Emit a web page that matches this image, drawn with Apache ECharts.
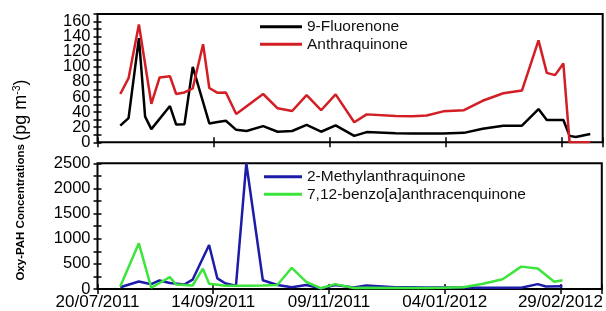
<!DOCTYPE html>
<html>
<head>
<meta charset="utf-8">
<script src="https://cdn.jsdelivr.net/npm/echarts@6/dist/echarts.min.js"></script>
<style>
  html, body { margin: 0; padding: 0; background: #fff; }
  #chart { width: 606px; height: 311px; }
</style>
</head>
<body>
<div id="chart"></div>
<script>
// sampling dates (start of x axis is 20/07/2011)
const startDate = '2011-07-20'
const sampleDates = [
  '2011-07-31','2011-08-04','2011-08-09','2011-08-12','2011-08-15','2011-08-19','2011-08-24','2011-08-27',
  '2011-08-31','2011-09-04','2011-09-09','2011-09-12','2011-09-16','2011-09-20','2011-09-25','2011-09-30',
  '2011-10-08','2011-10-15','2011-10-22','2011-10-29','2011-11-05','2011-11-12','2011-11-21','2011-11-27',
  '2011-12-11','2011-12-19','2011-12-26','2012-01-03','2012-01-13','2012-01-22','2012-02-01','2012-02-10',
  '2012-02-18','2012-02-22','2012-02-26','2012-03-01','2012-03-04','2012-03-07','2012-03-14'
]
// pg m-3, null = no vertex drawn at that date
const fluorenone = [22, 32, 138, 34, 17.5, null, 48, 23.5, 24, 100, null, 25, 27, 28.5, 16.5, 15,
  21.5, 14, 15, 23, 14, 22.5, 8.5, 13.5, 12, 11.5, null, 11.5, 12.5, 18, 22, 22, 44, 29.5, null, 29.5, 8.5, 7, 11]
const anthraquinone = [64, 85, 156, null, 51, 86, 87.5, 64, 66, 71.5, 130, 72, 65.5, 66, 37.5, null,
  64, 45, 41.5, 62.5, 42.5, 63.5, 26.5, 37, 35, 34.5, 35.5, 41, 42.5, 55, 65, 68.5, 135, 92, 89, 104.5, 0, 0, 0]
const methylAnthraquinone = [35, null, 150, null, 95, 170, 120, null, 90, 185, null, 876, 210, 110, 66, 2500,
  175, 80, 33, 80, 13, 78, 30, 70, 33, 35, 30, 30, 28, 25, 25, 25, 97, 50, null, 55, null, null, null]
const benzAnthracenquinone = [50, null, 909, null, 25, null, 235, 90, null, 70, 405, 105, null, 66, null, 66,
  70, 80, 422, 140, 15, 97, 20, 25, 20, 20, 22, 25, 33, 100, 195, 445, 409, null, 145, 175, null, null, null]

const xTickLabels = ['20/07/2011', '14/09/2011', '09/11/2011', '04/01/2012', '29/02/2012']
const xStepDays = 56
const xMaxDays = 244

const font = 'Liberation Sans'
const dayOf = d => (Date.parse(d) - Date.parse(startDate)) / 864e5
const toPoints = vals => sampleDates.map((d, i) => [dayOf(d), vals[i]]).filter(p => p[1] != null)

let tick = { inside: true, length: 5, lineStyle: { color: '#000', width: 1.5 } }

function xAx (grid, pos, withLabels) {
  return {
    type: 'value', gridIndex: grid, position: pos,
    min: 0, max: xMaxDays, interval: xStepDays,
    axisLine: { show: false }, splitLine: { show: false },
    axisTick: tick,
    axisLabel: {
      show: withLabels, margin: 5, color: '#000', fontFamily: font, fontSize: 17,
      formatter: v => (v % xStepDays === 0 ? (xTickLabels[v / xStepDays] || '') : '')
    }
  }
}
function yAx (grid, pos, max, step, labelStep, withLabels) {
  return {
    type: 'value', gridIndex: grid, position: pos,
    min: 0, max, interval: step,
    axisLine: { show: false }, splitLine: { show: false },
    axisTick: { inside: true, length: 4, lineStyle: { color: '#000', width: 1.5 } },
    axisLabel: {
      show: withLabels, margin: 7, color: '#000', fontFamily: font, fontSize: 16.5,
      formatter: v => (v % labelStep === 0 ? v : '')
    }
  }
}
function line (name, vals, color, xi, yi) {
  return {
    name, type: 'line', xAxisIndex: xi, yAxisIndex: yi,
    data: toPoints(vals), symbol: 'none', color,
    lineStyle: { width: 2.5, color }, z: 3
  }
}
let legendBase = {
  orient: 'vertical', icon: 'rect', itemHeight: 3, itemGap: 0, padding: 0,
  textStyle: { fontFamily: font, fontSize: 15.5, color: '#111', lineHeight: 17.5 }
}

const chart = echarts.init(document.getElementById('chart'))
chart.setOption({
  animation: false,
  grid: [
    { left: 97.5, right: 3.3, top: 14, height: 128.3, show: true, borderColor: '#000', borderWidth: 2 },
    { left: 97.5, right: 3.3, top: 163.3, height: 128.4, show: true, borderColor: '#000', borderWidth: 2 }
  ],
  xAxis: [xAx(0, 'bottom', false), xAx(0, 'top', false), xAx(1, 'bottom', true), xAx(1, 'top', false)],
  yAxis: [
    yAx(0, 'left', 170, 10, 20, true), yAx(0, 'right', 170, 10, 20, false),
    yAx(1, 'left', 2500, 250, 500, true), yAx(1, 'right', 2500, 250, 500, false)
  ],
  legend: [
    Object.assign({}, legendBase, { left: 260, top: 18, itemWidth: 42, data: ['9-Fluorenone', 'Anthraquinone'] }),
    Object.assign({}, legendBase, { left: 264, top: 168, itemWidth: 38, data: ['2-Methylanthraquinone', '7,12-benzo[a]anthracenquinone'] })
  ],
  graphic: [{
    type: 'text', x: 21, y: 180, rotation: Math.PI / 2,
    style: {
      text: '{a|Oxy-PAH Concentrations} {b|(pg m}{c|-3}{b|)}',
      align: 'center', verticalAlign: 'middle', fill: '#000',
      rich: {
        a: { fontFamily: font, fontSize: 11.5, fontWeight: 'bold', fill: '#000', verticalAlign: 'middle' },
        b: { fontFamily: font, fontSize: 18, fill: '#000', verticalAlign: 'middle' },
        c: { fontFamily: font, fontSize: 10.5, fill: '#000', verticalAlign: 'top' }
      }
    }
  }],
  series: [
    line('9-Fluorenone', fluorenone, '#000000', 0, 0),
    line('Anthraquinone', anthraquinone, '#d21e24', 0, 0),
    line('2-Methylanthraquinone', methylAnthraquinone, '#1c1ca8', 2, 2),
    line('7,12-benzo[a]anthracenquinone', benzAnthracenquinone, '#3ce43c', 2, 2)
  ]
})
</script>
</body>
</html>
